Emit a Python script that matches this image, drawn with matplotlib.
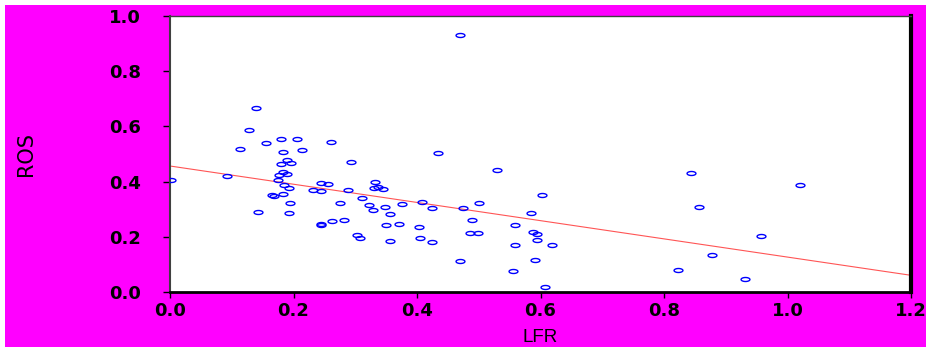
import matplotlib
matplotlib.use("Agg")
import matplotlib.pyplot as plt
import numpy as np
from matplotlib.path import Path
from matplotlib.patches import Rectangle

# LFR / ROS values
lfr = [0.139, 0.128, 0.156, 0.180, 0.206, 0.114, 0.183, 0.213, 0.260, 0.293,
       0.190, 0.180, 0.196, 0.183, 0.177, 0.189, 0.093, 0.002, 0.175, 0.185,
       0.192, 0.232, 0.245, 0.256, 0.244, 0.183, 0.165, 0.168, 0.194, 0.142,
       0.192, 0.244, 0.245, 0.289, 0.332, 0.330, 0.337, 0.345, 0.434, 0.311,
       0.408, 0.425, 0.475, 0.500, 0.489, 0.276, 0.323, 0.328, 0.348, 0.376,
       0.357, 0.262, 0.282, 0.349, 0.371, 0.403, 0.303, 0.308, 0.356, 0.405,
       0.425, 0.486, 0.498, 0.470, 0.470, 0.530, 0.602, 0.584, 0.559, 0.588,
       0.594, 0.594, 0.559, 0.619, 0.591, 0.556, 0.607, 0.843, 1.020, 0.856,
       0.957, 0.878, 0.823, 0.931]
ros = [0.666, 0.587, 0.541, 0.553, 0.554, 0.517, 0.507, 0.513, 0.544, 0.470,
       0.478, 0.465, 0.466, 0.436, 0.425, 0.426, 0.419, 0.404, 0.406, 0.387,
       0.376, 0.371, 0.396, 0.392, 0.365, 0.356, 0.351, 0.348, 0.324, 0.289,
       0.287, 0.245, 0.242, 0.370, 0.400, 0.376, 0.380, 0.372, 0.505, 0.341,
       0.325, 0.303, 0.304, 0.324, 0.261, 0.323, 0.314, 0.296, 0.308, 0.320,
       0.281, 0.257, 0.261, 0.242, 0.248, 0.237, 0.208, 0.197, 0.186, 0.197,
       0.182, 0.214, 0.212, 0.111, 0.932, 0.441, 0.350, 0.286, 0.242, 0.217,
       0.210, 0.187, 0.171, 0.171, 0.116, 0.077, 0.018, 0.432, 0.387, 0.308,
       0.202, 0.135, 0.080, 0.048]

# fitted line as drawn in the picture
fit_intercept = 0.4565
fit_slope = -0.33

x_ticks = [0.0, 0.2, 0.4, 0.6, 0.8, 1.0, 1.2]
y_ticks = [0.0, 0.2, 0.4, 0.6, 0.8, 1.0]

# flat open ellipse marker
t = np.linspace(0, 2 * np.pi, 40)
ellipse = Path(np.column_stack([np.cos(t), 0.45 * np.sin(t)]), closed=True)

fig = plt.figure(figsize=(9.26, 3.51), dpi=100)
fig.patch.set_facecolor("white")
fig.patches.append(Rectangle((5 / 926, 4 / 351), 921 / 926, 342 / 351,
                             transform=fig.transFigure, facecolor="#FF00FF",
                             edgecolor="none", zorder=-5))

ax = fig.add_axes([170 / 926, 59 / 351, 741 / 926, 276 / 351])
ax.set_zorder(2)
ax.set_facecolor("white")

xs = np.array([0.0, 1.2])
ax.plot(xs, fit_intercept + fit_slope * xs, color="#FF5555", lw=0.8, zorder=2)
ax.plot(lfr, ros, linestyle="none", marker=ellipse, markersize=6.4,
        markerfacecolor="none", markeredgecolor="#0000FF",
        markeredgewidth=1.0, zorder=3)

ax.set_xlim(0, 1.2)
ax.set_ylim(0, 1.0)
ax.set_xticks(x_ticks)
ax.set_yticks(y_ticks)
ax.set_xticklabels([f"{v:.1f}" for v in x_ticks])
ax.set_yticklabels([f"{v:.1f}" for v in y_ticks])

ax.tick_params(axis="y", direction="out", length=5, width=1, pad=16,
               labelsize=13, colors="black")
ax.tick_params(axis="x", direction="out", length=4.5, width=1, pad=3,
               labelsize=13, colors="black")
for lab in ax.get_xticklabels() + ax.get_yticklabels():
    lab.set_fontweight("bold")

ax.spines["left"].set_color("#404040")
ax.spines["left"].set_linewidth(1.5)
ax.spines["top"].set_color("#404040")
ax.spines["top"].set_linewidth(1.0)
ax.spines["bottom"].set_color("black")
ax.spines["bottom"].set_linewidth(2.0)
ax.spines["right"].set_color("black")
ax.spines["right"].set_linewidth(3.0)

fig.text(26 / 926, 1 - 154 / 351, "ROS", rotation=90, ha="center", va="center",
         fontsize=15, family=["Liberation Sans Narrow", "DejaVu Sans"])
fig.text(540 / 926, 1 - 337 / 351, "LFR", ha="center", va="center",
         fontsize=13.5, family=["Liberation Sans", "DejaVu Sans"])

fig.savefig("out.png", dpi=100, facecolor=fig.get_facecolor())
